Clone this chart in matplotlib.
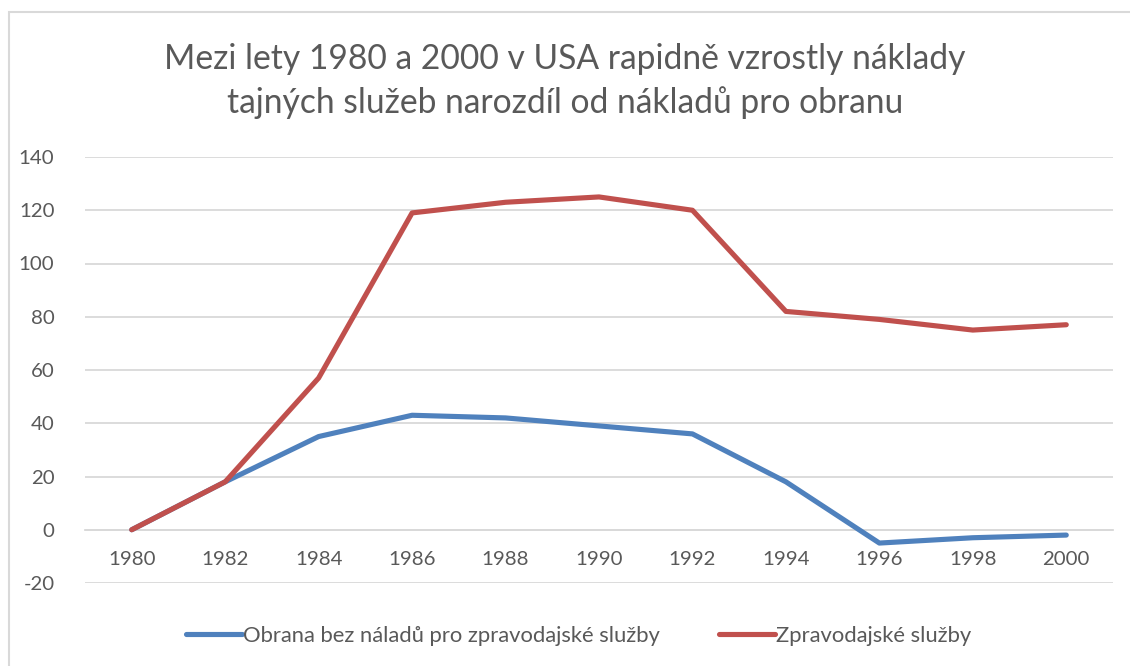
import matplotlib
matplotlib.use("Agg")
import matplotlib.pyplot as plt
from matplotlib.patches import Rectangle

years = ["1980", "1982", "1984", "1986", "1988", "1990", "1992", "1994", "1996", "1998", "2000"]
obrana = [0, 18, 35, 43, 42, 39, 36, 18, -5, -3, -2]
zpravodajske = [0, 18, 57, 119, 123, 125, 120, 82, 79, 75, 77]
series_names = ["Obrana bez náladů pro zpravodajské služby", "Zpravodajské služby"]
title = "Mezi lety 1980 a 2000 v USA rapidně vzrostly náklady\ntajných služeb narozdíl od nákladů pro obranu"
yticks = [-20, 0, 20, 40, 60, 80, 100, 120, 140]

plt.rcParams['font.family'] = ['Lato', 'DejaVu Sans']
W, H = 1130, 666
fig = plt.figure(figsize=(W/100, H/100), dpi=100)
txt = '#595959'
grid = '#D9D9D9'

ax = fig.add_axes([85/W, 1-583/H, (1113-85)/W, (583-157)/H])
x = list(range(len(years)))
ax.plot(x, obrana, color='#4F81BD', lw=3.7, solid_capstyle='round', solid_joinstyle='round', label=series_names[0], zorder=3)
ax.plot(x, zpravodajske, color='#C0504D', lw=3.7, solid_capstyle='round', solid_joinstyle='round', label=series_names[1], zorder=3)

ax.set_xlim(-0.5, len(years) - 0.5)
ax.set_ylim(-20, 140)
ax.set_yticks(yticks)
ax.set_yticklabels([str(v) for v in yticks])
ax.yaxis.grid(True, color=grid, lw=1.3)
ax.set_axisbelow(True)
for s in ['top', 'right', 'left']:
    ax.spines[s].set_visible(False)
ax.spines['bottom'].set_position(('data', 0))
ax.spines['bottom'].set_color(grid)
ax.spines['bottom'].set_linewidth(1.3)
ax.set_xticks(x)
ax.set_xticklabels(years)
ax.tick_params(axis='both', length=0, colors=txt, labelsize=14.7)
ax.tick_params(axis='x', pad=15)
ax.tick_params(axis='y', pad=22)

fig.text(0.5, 1-81/H, title, ha='center', va='center', fontsize=24.2, color=txt, linespacing=1.38)

leg = fig.legend(loc='center', bbox_to_anchor=(0.512, 1-636/H), ncol=2, frameon=False,
                 fontsize=15.8, handlelength=2.55, handletextpad=0.05, columnspacing=2.7)
for t in leg.get_texts():
    t.set_color(txt)

fig.patches.append(Rectangle((9/W, -0.1), 1.2, 1 - 12/H + 0.1, transform=fig.transFigure,
                             fill=False, edgecolor=grid, lw=1.5))

fig.savefig('out.png', dpi=100)
